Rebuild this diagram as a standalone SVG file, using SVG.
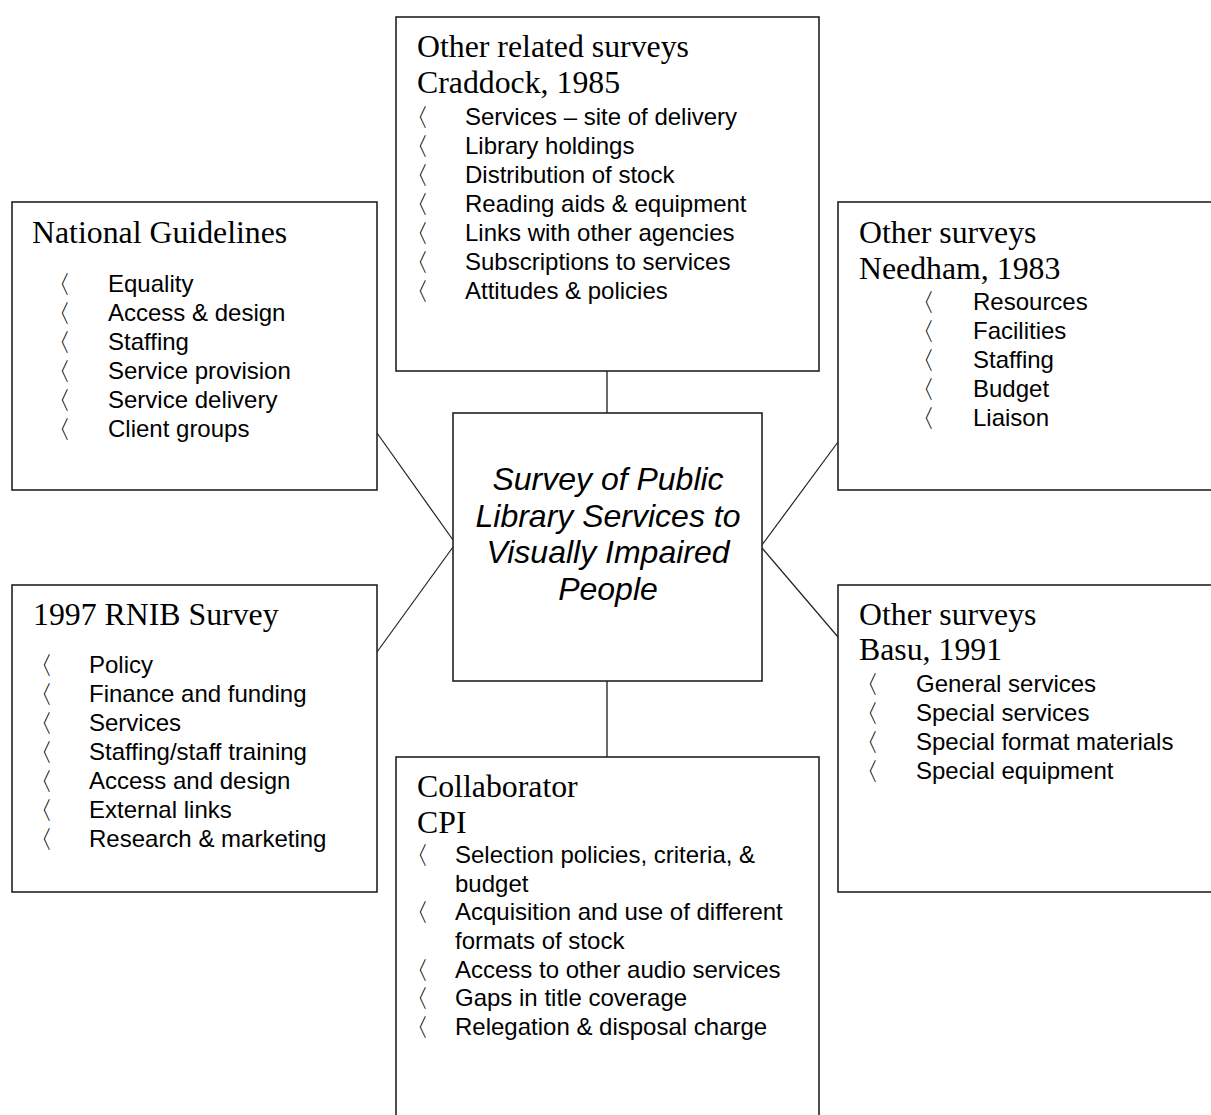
<svg xmlns="http://www.w3.org/2000/svg" width="1211" height="1115" viewBox="0 0 1211 1115">
<style>
.box{fill:#fff;stroke:#222;stroke-width:1.6}
.con{stroke:#222;stroke-width:1.2;fill:none}
.vcon{stroke:#444;stroke-width:1.6;fill:none}
.title{font-family:"Liberation Serif","Times New Roman",serif;font-size:31.8px;fill:#000}
.item{font-family:"Liberation Sans",Arial,sans-serif;font-size:24px;fill:#000}
.bul{font-family:"DejaVu Sans","Noto Sans",sans-serif;font-size:25px;fill:#000}
.center{font-family:"Liberation Sans",Arial,sans-serif;font-size:32px;font-style:italic;fill:#000;text-anchor:middle}
</style>
<rect width="1211" height="1115" fill="#fff"/>
<g id="connectors">
<line class="vcon" x1="607" y1="371" x2="607" y2="413"/>
<line class="vcon" x1="607" y1="681" x2="607" y2="757"/>
<line class="con" x1="377" y1="433" x2="453" y2="540"/>
<line class="con" x1="453" y1="547" x2="377" y2="652"/>
<line class="con" x1="838" y1="442" x2="762" y2="545"/>
<line class="con" x1="762" y1="548" x2="838" y2="637"/>
</g>
<g id="node-craddock">
<rect class="box" x="396" y="17" width="423" height="354"/>
<text class="title" x="417" y="57">Other related surveys</text>
<text class="title" x="417" y="93">Craddock, 1985</text>
<g class="bul"><text x="404" y="126">〈</text><text x="404" y="155">〈</text><text x="404" y="184">〈</text><text x="404" y="213">〈</text><text x="404" y="242">〈</text><text x="404" y="271">〈</text><text x="404" y="300">〈</text></g>
<g class="item"><text x="465" y="125">Services – site of delivery</text><text x="465" y="154">Library holdings</text><text x="465" y="183">Distribution of stock</text><text x="465" y="212">Reading aids &amp; equipment</text><text x="465" y="241">Links with other agencies</text><text x="465" y="270">Subscriptions to services</text><text x="465" y="299">Attitudes &amp; policies</text></g>
</g>
<g id="node-national">
<rect class="box" x="12" y="202" width="365" height="288"/>
<text class="title" x="32" y="243">National Guidelines</text>
<g class="bul"><text x="46" y="293">〈</text><text x="46" y="322">〈</text><text x="46" y="351">〈</text><text x="46" y="380">〈</text><text x="46" y="409">〈</text><text x="46" y="438">〈</text></g>
<g class="item"><text x="108" y="292">Equality</text><text x="108" y="321">Access &amp; design</text><text x="108" y="350">Staffing</text><text x="108" y="379">Service provision</text><text x="108" y="408">Service delivery</text><text x="108" y="437">Client groups</text></g>
</g>
<g id="node-needham">
<rect class="box" x="838" y="202" width="380" height="288"/>
<text class="title" x="859" y="243">Other surveys</text>
<text class="title" x="859" y="279">Needham, 1983</text>
<g class="bul"><text x="910" y="311">〈</text><text x="910" y="340">〈</text><text x="910" y="369">〈</text><text x="910" y="398">〈</text><text x="910" y="427">〈</text></g>
<g class="item"><text x="973" y="310">Resources</text><text x="973" y="339">Facilities</text><text x="973" y="368">Staffing</text><text x="973" y="397">Budget</text><text x="973" y="426">Liaison</text></g>
</g>
<g id="node-center">
<rect class="box" x="453" y="413" width="309" height="268"/>
<text class="center" x="608" y="490">Survey of Public</text>
<text class="center" x="608" y="527">Library Services to</text>
<text class="center" x="608" y="563">Visually Impaired</text>
<text class="center" x="608" y="600">People</text>
</g>
<g id="node-rnib">
<rect class="box" x="12" y="585" width="365" height="307"/>
<text class="title" x="33" y="625">1997 RNIB Survey</text>
<g class="bul"><text x="28" y="674">〈</text><text x="28" y="703">〈</text><text x="28" y="732">〈</text><text x="28" y="761">〈</text><text x="28" y="790">〈</text><text x="28" y="819">〈</text><text x="28" y="848">〈</text></g>
<g class="item"><text x="89" y="673">Policy</text><text x="89" y="702">Finance and funding</text><text x="89" y="731">Services</text><text x="89" y="760">Staffing/staff training</text><text x="89" y="789">Access and design</text><text x="89" y="818">External links</text><text x="89" y="847">Research &amp; marketing</text></g>
</g>
<g id="node-basu">
<rect class="box" x="838" y="585" width="380" height="307"/>
<text class="title" x="859" y="625">Other surveys</text>
<text class="title" x="859" y="660">Basu, 1991</text>
<g class="bul"><text x="854" y="693">〈</text><text x="854" y="722">〈</text><text x="854" y="751">〈</text><text x="854" y="780">〈</text></g>
<g class="item"><text x="916" y="692">General services</text><text x="916" y="721">Special services</text><text x="916" y="750">Special format materials</text><text x="916" y="779">Special equipment</text></g>
</g>
<g id="node-collaborator">
<rect class="box" x="396" y="757" width="423" height="370"/>
<text class="title" x="417" y="797">Collaborator</text>
<text class="title" x="417" y="833">CPI</text>
<g class="bul"><text x="404" y="864">〈</text><text x="404" y="921">〈</text><text x="404" y="979">〈</text><text x="404" y="1007">〈</text><text x="404" y="1036">〈</text></g>
<g class="item"><text x="455" y="863">Selection policies, criteria, &amp;</text><text x="455" y="892">budget</text><text x="455" y="920">Acquisition and use of different</text><text x="455" y="949">formats of stock</text><text x="455" y="978">Access to other audio services</text><text x="455" y="1006">Gaps in title coverage</text><text x="455" y="1035">Relegation &amp; disposal charge</text></g>
</g>
</svg>
